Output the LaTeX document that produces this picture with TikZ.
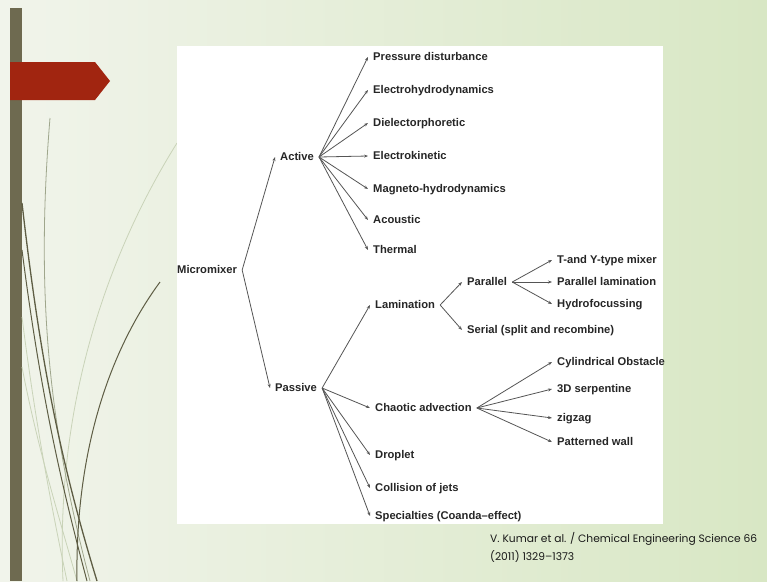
\documentclass[tikz,border=0pt]{standalone}
\usepackage{fontspec}
\setmainfont{Liberation Sans}
\newfontfamily\citefont{Poppins}
\usetikzlibrary{arrows.meta}

\definecolor{slidelight}{HTML}{F1F4EB}
\definecolor{slidegreen}{HTML}{D8E7C4}
\definecolor{barolive}{HTML}{6E6A50}
\definecolor{tagred}{HTML}{A12510}
\definecolor{linkgray}{HTML}{555555}
\definecolor{stemlight}{HTML}{C9D3B8}
\definecolor{stemmid}{HTML}{9FA68C}
\definecolor{stemdark}{HTML}{5E5D44}

\tikzset{
  item/.style={anchor=west, inner xsep=5pt, inner ysep=0pt, font=\bfseries\fontsize{11.2}{13}\selectfont,
    text height=1.6ex, text depth=.3ex, text=black!85},
  link/.style={draw=linkgray, line width=0.8pt, -{Stealth[length=4pt,width=3pt]}}
}

\begin{document}
\begin{tikzpicture}[x=1pt,y=-1pt]
\useasboundingbox (0,0) rectangle (767,581);
% slide background
\shade[left color=slidelight, right color=slidegreen] (0,0) rectangle (767,581);
\fill[barolive] (10,8) rectangle (22,581);
\fill[tagred] (10,62) -- (95,62) -- (110,81) -- (95,100) -- (10,100) -- cycle;
% stems
\draw[stemlight, line width=0.8pt] (177,143) .. controls (110,250) and (55,400) .. (63,581);
\draw[stemlight, line width=0.8pt] (22,317) .. controls (35,420) and (50,500) .. (67,581);
\draw[stemlight, line width=0.8pt] (22,367) .. controls (38,450) and (60,520) .. (77,581);
\draw[stemmid, line width=0.8pt] (50,118) .. controls (35,300) and (50,430) .. (90,581);
\draw[stemdark, line width=1pt] (160,282) .. controls (110,350) and (75,450) .. (77,581);
\draw[stemdark, line width=1.3pt] (22,203) .. controls (40,360) and (60,460) .. (97,581);
\draw[stemdark, line width=1pt] (22,250) .. controls (40,390) and (60,480) .. (87,581);
% white panel
\fill[white] (177,46) rectangle (663,524);

\node[item] (mix) at (172,270) {Micromixer};
\node[item] (act) at (275,157) {Active};
\node[item] (pas) at (270,388) {Passive};

\node[item] (pd)  at (368,57)  {Pressure disturbance};
\node[item] (ehd) at (368,90)  {Electrohydrodynamics};
\node[item] (dep) at (368,123) {Dielectorphoretic};
\node[item] (ek)  at (368,156) {Electrokinetic};
\node[item] (mhd) at (368,189) {Magneto-hydrodynamics};
\node[item] (aco) at (368,220) {Acoustic};
\node[item] (thm) at (368,250) {Thermal};

\node[item] (lam) at (370,305) {Lamination};
\node[item] (cha) at (370,408) {Chaotic advection};
\node[item] (dro) at (370,455) {Droplet};
\node[item] (col) at (370,488) {Collision of jets};
\node[item] (spe) at (370,516) {Specialties (Coanda–effect)};

\node[item] (par) at (462,282) {Parallel};
\node[item] (ser) at (462,330) {Serial (split and recombine)};

\node[item] (tym) at (552,260) {T-and Y-type mixer};
\node[item] (pla) at (552,282) {Parallel lamination};
\node[item] (hyd) at (552,304) {Hydrofocussing};

\node[item] (cyl) at (552,362) {Cylindrical Obstacle};
\node[item] (ser3) at (552,389) {3D serpentine};
\node[item] (zig) at (552,418) {zigzag};
\node[item] (pat) at (552,442) {Patterned wall};

\foreach \a/\b in {mix/act, mix/pas,
  act/pd, act/ehd, act/dep, act/ek, act/mhd, act/aco, act/thm,
  pas/lam, pas/cha, pas/dro, pas/col, pas/spe,
  lam/par, lam/ser, par/tym, par/pla, par/hyd,
  cha/cyl, cha/ser3, cha/zig, cha/pat}
  \draw[link] (\a.east) -- (\b.west);

\node[anchor=north west, align=left, inner sep=0pt, text=black!90,
  font=\citefont\fontsize{10.7}{18}\selectfont] (cite) at (490,532)
  {V. Kumar et al. / Chemical Engineering Science 66\\(2011) 1329–1373};
\end{tikzpicture}
\end{document}
